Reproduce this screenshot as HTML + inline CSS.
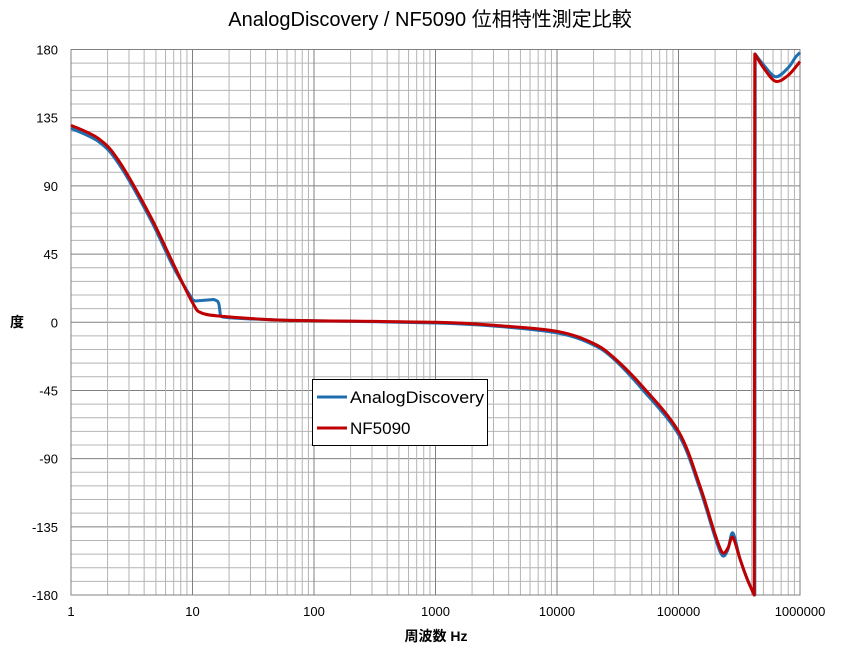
<!DOCTYPE html>
<html><head><meta charset="utf-8"><style>
body{margin:0;background:#fff;}
text{font-family:"Liberation Sans","Noto Sans CJK JP",sans-serif;}
</style></head><body>
<svg id="s" width="846" height="654" xmlns="http://www.w3.org/2000/svg">
<rect width="846" height="654" fill="#fff"/>
<g id="grid"></g>
<text x="430" y="26" font-size="20" text-anchor="middle" fill="#000">AnalogDiscovery / NF5090 位相特性測定比較</text>
<g id="lab" font-size="13" fill="#000"></g>
<text x="17" y="327" font-size="14" font-weight="bold" text-anchor="middle">度</text>
<text x="436" y="641" font-size="14" font-weight="bold" text-anchor="middle">周波数  Hz</text>
<path id="blue" fill="none" stroke="#1f6fb0" stroke-width="3" stroke-linejoin="round"/>
<path id="red" fill="none" stroke="#c00000" stroke-width="3" stroke-linejoin="round"/>
<rect x="312.5" y="379.5" width="175" height="66" fill="#fff" stroke="#000" stroke-width="1"/>
<line x1="317" y1="397" x2="347" y2="397" stroke="#1f6fb0" stroke-width="3"/>
<text x="350" y="403" font-size="17" textLength="134" lengthAdjust="spacingAndGlyphs">AnalogDiscovery</text>
<line x1="317" y1="428" x2="347" y2="428" stroke="#c00000" stroke-width="3"/>
<text x="350" y="434" font-size="17">NF5090</text>
</svg>
<script>
var L=71,R=800,T=49.5,B=595;
function X(f){return L+(Math.log10(f))*(R-L)/6;}
function Y(d){return T+(180-d)*(B-T)/360;}
var g='';
for(var k=-180;k<=180;k+=9){var y=Y(k);var maj=(k%45==0);
g+='<line x1="'+L+'" x2="'+R+'" y1="'+y+'" y2="'+y+'" stroke="'+(maj?'#808080':'#b4b4b4')+'" stroke-width="1"/>';}
for(var e=0;e<6;e++)for(var m=1;m<=10;m++){var x=X(m*Math.pow(10,e));var maj=(m==1||m==10);
g+='<line y1="'+T+'" y2="'+B+'" x1="'+x+'" x2="'+x+'" stroke="'+(maj?'#808080':'#b4b4b4')+'" stroke-width="1"/>';}
g+='<rect x="'+L+'" y="'+T+'" width="'+(R-L)+'" height="'+(B-T)+'" fill="none" stroke="#808080"/>';
document.getElementById('grid').innerHTML=g;
var l='';
for(var k=-180;k<=180;k+=45)l+='<text x="58" y="'+(Y(k)+5)+'" text-anchor="end">'+k+'</text>';
var p=1;for(var e=0;e<=6;e++){l+='<text x="'+X(p)+'" y="616" text-anchor="middle">'+p+'</text>';p*=10;}
document.getElementById('lab').innerHTML=l;
function cr(pts,first){var P=pts.map(function(a){return[X(a[0]),Y(a[1])];});
var d=(first?'M':'L')+P[0][0].toFixed(1)+','+P[0][1].toFixed(1);
for(var i=0;i<P.length-1;i++){var p0=P[i-1]||P[i],p1=P[i],p2=P[i+1],p3=P[i+2]||p2;
var c1=[p1[0]+(p2[0]-p0[0])/6,p1[1]+(p2[1]-p0[1])/6],c2=[p2[0]-(p3[0]-p1[0])/6,p2[1]-(p3[1]-p1[1])/6];
d+='C'+c1[0].toFixed(1)+','+c1[1].toFixed(1)+' '+c2[0].toFixed(1)+','+c2[1].toFixed(1)+' '+p2[0].toFixed(1)+','+p2[1].toFixed(1);}
return d;}
function path(segs){return segs.map(function(s,i){return cr(s,i==0);}).join('');}
var red=[
[[1,130],[1.7,121],[2.5,106],[4.5,70],[7,38],[10,13],[12,6],[20,3.5],[50,1.5],[100,1],[1000,0],[3000,-2],[10000,-6],[20000,-14],[30000,-24],[50000,-42],[100000,-72],[150000,-108],[200000,-140],[230000,-152],[255000,-149],[280000,-142],[320000,-156],[370000,-170],[420000,-180]],
[[425000,177],[500000,168],[630000,159],[800000,163],[1000000,172]]];
var blue=[
[[1,128],[1.7,119],[2.5,104],[4.5,68],[7,36],[10,15]],
[[10.5,14],[15,15]],
[[16,14],[16.5,12],[17,4]],
[[17,4],[20,3],[50,1.5],[100,1],[1000,-0.5],[3000,-2.5],[10000,-7],[20000,-15],[30000,-25],[50000,-44],[100000,-74],[150000,-110],[200000,-142],[230000,-154],[255000,-150],[280000,-139],[320000,-156],[370000,-170],[425000,-180]],
[[428000,177],[500000,170],[630000,162],[800000,168],[920000,175],[1000000,178]]];
document.getElementById('red').setAttribute('d',path(red));
document.getElementById('blue').setAttribute('d',path(blue));
</script>
</body></html>
